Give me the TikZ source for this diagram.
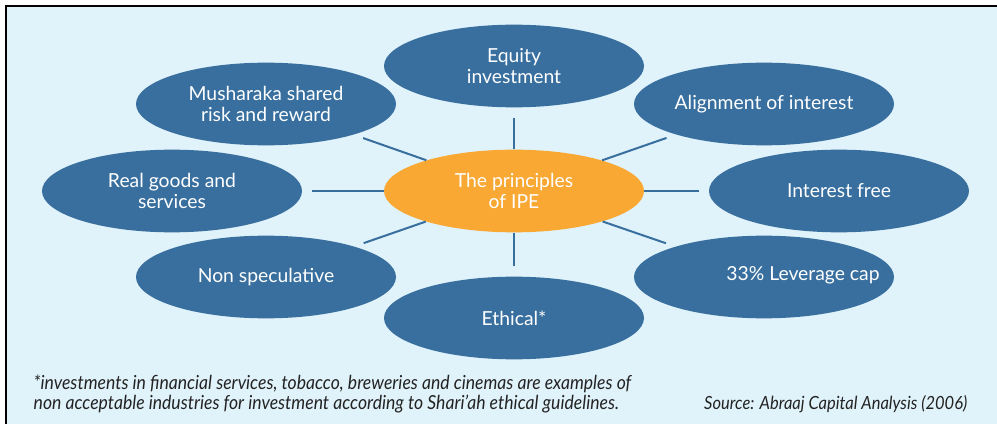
\documentclass[tikz,border=0pt]{standalone}
\usepackage{fontspec}
\setmainfont{Lato}
\newfontfamily\notefont[FakeStretch=0.91]{Lato}
\usetikzlibrary{shapes.geometric}

\definecolor{panelblue}{RGB}{224,242,250}
\definecolor{ovalblue}{RGB}{56,111,158}
\definecolor{ovalorange}{RGB}{248,168,51}
\definecolor{notegray}{RGB}{35,35,35}

\begin{document}
\begin{tikzpicture}[x=0.75pt,y=-0.75pt]

        \useasboundingbox (0,0) rectangle (997,424);
        \fill[panelblue] (6,6) rectangle (997,424);
        \draw[line width=1.5pt] (6,424) -- (6,6) -- (997,6);

        \begin{scope}[every node/.style={ellipse,fill=ovalblue,text=white,align=center,
            inner sep=0pt,minimum width=195pt,minimum height=62pt,
            font=\fontsize{14.5}{16}\selectfont}]
          \node[fill=ovalorange] (ipe) at (514,191) {The principles\\of IPE};
          \node (eq)   at (514,66)  {Equity\\investment};
          \node (mus)  at (266,104) {Musharaka shared\\risk and reward};
          \node (ali)  at (764,104) {Alignment of interest};
          \node (real) at (172,191) {Real goods and\\services};
          \node (free) at (839,191) {Interest free};
          \node (spec) at (266,277) {Non speculative};
          \node (lev)  at (764,277) {};
          \node (eth)  at (514,318) {Ethical*};
        \end{scope}

        % text of the leverage oval sits right of centre
        \node[text=white,font=\fontsize{14.5}{16}\selectfont] (levtext) at (803,275) {33\% Leverage cap};

        \begin{scope}[every edge/.style={draw,ovalblue,line width=1.5pt,shorten >=7.5pt}]
          \path (ipe) edge (eq);
          \path (ipe) edge (mus);
          \path (ipe) edge (ali);
          \path (ipe) edge (real);
          \path (ipe) edge (free);
          \path (ipe) edge (spec);
          \path (ipe) edge (lev);
          \path (ipe) edge (eth);
        \end{scope}

        \begin{scope}[every node/.style={text=notegray,font=\notefont\itshape\fontsize{14.5}{15}\selectfont}]
          \node[anchor=west,align=left] (note) at (29,394)
            {*investments in financial services, tobacco, breweries and cinemas are examples of\\
             non acceptable industries for investment according to Shari’ah ethical guidelines.};
          \node[anchor=east,font=\notefont\itshape\fontsize{13.6}{15}\selectfont] (src) at (972,404)
            {Source: Abraaj Capital Analysis (2006)};
        \end{scope}

      \end{tikzpicture}
\end{document}
